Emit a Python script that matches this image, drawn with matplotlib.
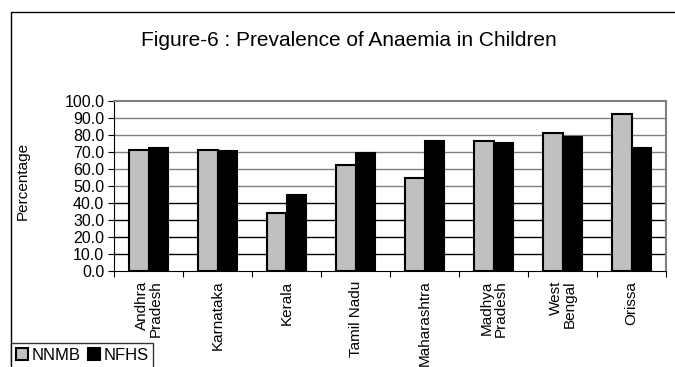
import numpy as np
import matplotlib.pyplot as plt
from matplotlib.patches import Rectangle

plt.rcParams['font.family'] = ['Liberation Sans', 'DejaVu Sans']

states = ['Andhra\nPradesh', 'Karnataka', 'Kerala', 'Tamil Nadu', 'Maharashtra',
          'Madhya\nPradesh', 'West\nBengal', 'Orissa']
nnmb = [71.2, 71.2, 33.9, 62.4, 54.5, 76.7, 81.4, 92.6]
nfhs = [72.5, 70.8, 44.5, 69.6, 76.5, 75.5, 78.6, 72.6]

fig = plt.figure(figsize=(6.75, 3.67), dpi=100)
ax = fig.add_axes([114 / 675, 1 - 271 / 367, 552 / 675, 170 / 367])

# outer chart frame
fig.patches.append(Rectangle((11 / 675, -0.1), 1.2, 1.1 - 12 / 367, transform=fig.transFigure,
                             fill=False, edgecolor='black', linewidth=1.0))

x = np.arange(len(states))
w = 0.286
ax.bar(x - w / 2, nnmb, w, color='#c0c0c0', edgecolor='black', linewidth=1.5,
       label='NNMB', zorder=3)
ax.bar(x + w / 2, nfhs, w, color='black', edgecolor='black', linewidth=1.5,
       label='NFHS', zorder=3)

ax.set_xlim(-0.5, len(states) - 0.5)
ax.set_ylim(0, 100)

for v in range(10, 100, 10):
    ax.axhline(v, color='black' if v < 50 else '#808080', linewidth=1.0, zorder=1)

yt = np.arange(0, 101, 10)
ax.set_yticks(yt)
ax.set_yticklabels([f'{v:.1f}' for v in yt], fontsize=11.5)
ax.set_xticks(np.arange(-0.5, len(states), 1))
ax.set_xticklabels([])
ax.set_xticks(x, minor=True)
ax.set_xticklabels(states, minor=True, rotation=90, fontsize=11, va='top',
                   multialignment='right', linespacing=1.0)
ax.tick_params(axis='x', which='minor', length=0, pad=7)
ax.tick_params(axis='x', which='major', length=4, direction='out', color='black')
ax.tick_params(axis='y', length=4, direction='out', color='black', pad=3)

for s in ['top', 'right']:
    ax.spines[s].set_color('#808080')
    ax.spines[s].set_linewidth(1.5)
ax.spines['left'].set_color('black')
ax.spines['bottom'].set_color('black')

ax.set_ylabel('Percentage', fontsize=11)
ax.yaxis.set_label_coords(-0.152, 0.53)
fig.text(349 / 675, 1 - 40 / 367, 'Figure-6 : Prevalence of Anaemia in Children',
         ha='center', va='center', fontsize=15)

leg = fig.legend(loc='upper left', bbox_to_anchor=(11 / 675, 1 - 343 / 367), ncol=2,
                 fontsize=12, frameon=True, fancybox=False, borderaxespad=0,
                 handlelength=0.75, handleheight=0.75, handletextpad=0.2,
                 columnspacing=0.4, borderpad=0.3)
leg.get_frame().set_edgecolor('black')
leg.get_frame().set_linewidth(1.0)

fig.savefig('out.png', dpi=100)
